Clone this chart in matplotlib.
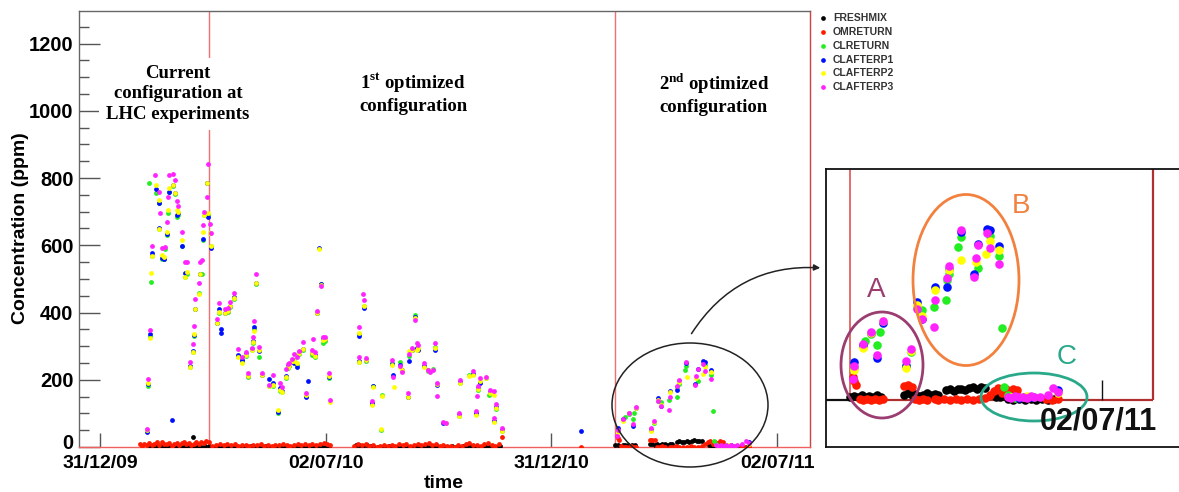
import numpy as np
import matplotlib
matplotlib.use('Agg')
import matplotlib.pyplot as plt
from matplotlib.patches import Ellipse, FancyArrowPatch
from matplotlib.lines import Line2D

BASE_DATE = '2009-12-31'

# ---------------- data (days since BASE_DATE, ppm) ----------------
FRESHMIX_DAYS = [40, 43, 46, 49, 52, 55, 58, 61, 64, 67, 70, 73, 75, 76, 79, 82, 85, 88,
                 92, 95, 98, 101, 104, 107, 110, 113, 116, 119, 122, 125, 128, 131, 134, 137,
                 140, 143, 146, 149, 152, 155, 158, 161, 164, 167, 170, 173, 176, 179, 182, 185,
                 207, 210, 213, 216, 219, 222, 225, 228, 231, 234, 237, 240, 243, 246, 249, 252,
                 255, 258, 261, 264, 267, 270, 273, 276, 279, 282, 285, 288, 291, 294, 297, 300,
                 303, 306, 309, 312, 315, 318, 321, 324,
                 417, 419, 421, 423, 425, 427, 429, 431, 433, 445, 447, 449, 451, 453, 455, 457,
                 459, 461, 463, 467, 469, 471, 473, 475, 477, 479, 481, 483, 485, 487, 493, 495,
                 497, 499, 502, 505, 508, 511, 514, 517, 520, 523]
FRESHMIX_PPM = [2, 1, 3, 2, 1, 2, 3, 1, 2, 1, 2, 3, 30, 1, 2, 1, 2, 3,
                1, 2, 1, 2, 0, 1, 2, 1, 0, 1, 2, 1, 0, 1, 2, 1,
                0, 1, 2, 1, 0, 1, 2, 1, 0, 1, 2, 1, 0, 2, 1, 3,
                5, 6, 4, 7, 2, 1, 0, 1, 0, 2, 1, 0, 2, 1, 0, 1,
                2, 0, 1, 2, 0, 1, 3, 1, 0, 1, 2, 1, 0, 3, 4, 2,
                1, 0, 1, 2, 1, 0, 1, 2,
                5, 6, 4, 7, 5, 6, 4, 7, 5, 8, 10, 7, 9, 6, 8, 10,
                7, 9, 8, 15, 17, 14, 16, 17, 15, 18, 20, 17, 19, 18, 5, 4,
                6, 2, 0, 1, 0, 1, 0, 1, 0, 1]

OMRETURN_DAYS = [32, 34, 36, 38, 40, 42, 44, 46, 48, 50, 52, 54, 56, 58, 60, 62, 64, 66, 68,
                 70, 72, 74, 76, 78, 80, 82, 84, 86, 88,
                 91, 94, 97, 100, 103, 106, 109, 112, 115, 118, 121, 124, 127, 130, 133, 136,
                 139, 142, 145, 148, 151, 154, 157, 160, 163, 166, 169, 172, 175, 178, 181, 184, 186,
                 206, 209, 212, 215, 218, 221, 224, 227, 230, 233, 236, 239, 242, 245, 248, 251,
                 254, 257, 260, 263, 266, 269, 272, 275, 278, 281, 284, 287, 290, 293, 296, 299,
                 302, 305, 308, 311, 314, 317, 320, 323, 325.4,
                 389,
                 418.5, 419, 420, 422, 424, 426, 428, 430, 432, 434, 445, 447, 449, 451, 453, 455,
                 457, 461, 463, 466, 469, 472, 475, 478, 481, 484, 487, 490, 492, 494, 496, 498,
                 500, 502, 504, 519, 522, 525]
OMRETURN_PPM = [8, 3, 10, 5, 12, 6, 9, 14, 7, 16, 10, 8, 12, 4, 9, 13, 6, 11, 15,
                8, 12, 5, 10, 14, 9, 16, 12, 18, 14,
                4, 7, 10, 6, 9, 5, 8, 4, 7, 6, 3, 7, 5, 8, 4, 6,
                3, 7, 5, 8, 6, 4, 7, 9, 5, 8, 6, 10, 7, 9, 12, 8, 5,
                3, 8, 5, 10, 2, 6, 1, 4, 7, 3, 6, 2, 8, 5, 9, 4,
                7, 10, 5, 8, 12, 6, 9, 3, 5, 2, 4, 1, 6, 3, 8, 11,
                5, 7, 4, 9, 12, 6, 3, 8, 29,
                0,
                34, 28, 22, 2, 0, 1, 0, 2, 0, 1, 21, 22, 20, 1, 0, 2,
                0, 1, 0, 2, 0, 1, 0, 2, 0, 1, 3, 8, 14, 18, 10, 16,
                12, 17, 15, 2, 0, 1]

nan = np.nan
# common sampling days for the chlorine-line channels
CL_DAYS = [38.3, 39.1, 39.9, 40.5, 41.3, 41.8, 44.8, 45.1, 47.8, 48.0, 48.6, 49.9, 52.1, 52.6,
           54.0, 55.3, 56.1, 58.0, 59.4, 60.7, 62.1, 63.4, 66.1, 68.8, 70.2, 72.9, 75.0, 76.1,
           76.9, 80.1, 80.9, 82.3, 83.1, 84.2, 86.9, 87.2, 87.7, 89.0, 89.6,
           95.0, 96.6, 98.0, 98.3, 101.2, 103.4, 105.2, 108.7, 111.4, 114.7, 118.2, 119.5, 122.8,
           124.1, 124.9, 126.0, 129.0, 130.9, 136.8, 140.3, 144.3, 145.7, 147.0, 150.6, 151.9,
           153.2, 155.1, 157.3, 159.2, 161.3, 164.6, 166.7, 168.1, 171.3, 172.2, 174.0, 175.4,
           177.5, 178.9, 180.8, 182.1, 185.6, 185.9,
           209.6, 209.9, 212.8, 213.3, 215.0, 220.4, 221.2, 227.2, 228.5, 236.6, 237.4, 237.6,
           242.8, 244.3, 249.6, 250.4, 252.3, 255.0, 256.3, 257.7, 262.3, 265.8, 267.1, 269.3,
           271.2, 272.5, 273.0, 277.9, 280.1, 290.9, 291.4, 298.7, 301.7, 304.4, 305.4, 306.2,
           307.6, 312.2, 314.9, 315.7, 318.9, 319.2, 320.5, 325.4,
           389.0,
           418.7, 419.1, 423.6, 424.8, 427.8, 431.2, 432.6, 434.0, 446.1, 448.7, 451.7, 454.3,
           460.9, 461.2, 466.8, 467.3, 468.7, 473.4, 474.6, 474.8, 481.5, 482.6, 483.8, 487.8,
           488.1, 489.8, 494.7, 495.9,
           497.1, 499.0, 501.0, 503.0, 505.0, 507.0, 509.0, 511.0, 513.0, 516.0, 520.0, 522.8, 525.4]

CLRETURN = [50, 182, 786, 330, 491, 569, nan, 756, 727, 648, nan, 560, 558, 588,
            631, 696, 758, nan, 775, 752, 683, 690, 598, 507, 515, 237, 284, 330,
            411, 458, 515, 515, 616, 690, 786, nan, 690, 636, 598,
            368, 400, nan, nan, 398, 403, 415, 440, 270, 255, 272, 207, 288,
            310, 350, 484, 267, 213, 180, 180, 100, 168, 163, 205, 235,
            240, 252, 260, 245, 278, 290, 152, nan, 275, nan, 268, 398,
            nan, 485, 310, 315, 205, nan,
            252, 335, nan, 418, 255, 128, 181, 50, 155, 250, nan, nan,
            254, 226, 150, 270, 288, 393, 292, 292, 240, 226, nan, 232,
            298, nan, 186, nan, nan, 93, 189, 214, 216, 98, nan, 170,
            193, 205, 155, 162, 76, nan, 113, 48,
            nan,
            nan, 48, 80, 88, 98, 82, 102, nan, 52, 72, 138, 134,
            139, nan, 149, 179, 188, 228, 242, nan, nan, nan, 197, nan,
            nan, 244, 214, 107,
            19, 8, nan, 3, nan, 5, nan, nan, 4, nan, nan, nan, nan]

CLAFTERP1 = [45, 188, nan, 335, nan, 577, nan, 768, 727, 652, nan, 562, 558, nan,
             635, nan, 760, 80, 778, 757, 690, 695, 598, 517, nan, 240, 286, 333,
             412, nan, 515, nan, 620, nan, 786, nan, 684, nan, 591,
             370, 410, 350, 340, 400, 405, 420, 445, 274, 259, 276, 212, 292,
             315, 358, 488, 285, 215, 201, 190, 103, 175, 168, 212, 240,
             245, 255, 250, 238, 282, 293, 150, 197, 280, nan, 275, 400,
             592, 484, 320, 322, 207, nan,
             256, 331, nan, 413, 260, 130, 180, nan, nan, 248, 214, nan,
             245, 230, 150, 256, 290, 388, 295, 290, 242, 230, nan, nan,
             290, nan, 185, 72, nan, 95, 192, nan, 218, 100, nan, 175,
             191, nan, nan, 163, 78, nan, 118, 50,
             48,
             nan, 57, 82, nan, 100, 63, nan, 115, 50, nan, 146, 121,
             nan, 168, nan, 169, 195, nan, 250, nan, 187, nan, 233, nan,
             255, 253, 230, nan,
             nan, nan, nan, nan, 3, nan, nan, 5, nan, nan, nan, nan, 15]

CLAFTERP2 = [50, 190, nan, 324, 518, 569, nan, 780, 735, 649, nan, 571, 565, nan,
             641, 705, 770, nan, 780, 755, 705, 698, 616, 507, 520, 237, 284, 336,
             411, 455, 515, nan, 641, 690, 786, nan, 695, 636, 598,
             370, 403, nan, nan, 400, 405, 418, 443, 269, 251, 274, 210, 290,
             313, 346, 487, 289, 215, 182, 185, 110, 170, 165, 209, 239,
             245, 255, 255, 250, 280, 291, 155, nan, 279, nan, 272, 400,
             588, 482, 318, 320, 210, 135,
             254, 340, nan, 420, 258, 125, 178, 53, 153, 244, nan, 178,
             237, 228, 148, 287, 290, 385, 289, 295, 237, 228, 226, nan,
             295, nan, 187, nan, 70, 92, 191, 210, 214, 95, nan, 172,
             195, 205, nan, 160, 75, 155, 115, 48,
             nan,
             nan, 45, 77, nan, 100, nan, nan, 117, 47, 73, 141, 125,
             nan, 164, nan, nan, 193, nan, nan, 209, nan, 205, nan, 217,
             nan, 237, 224, nan,
             nan, nan, 4, nan, nan, nan, 6, nan, nan, nan, nan, nan, 10]

CLAFTERP3 = [55, 202, nan, 348, nan, 599, 810, nan, 760, nan, 696, 592, nan, 595,
             668, 745, 810, nan, 812, 793, 733, 718, 641, 550, 550, 254, 307, 361,
             440, 487, 550, 555, 659, 700, 745, 841, nan, 663, 636,
             380, 428, nan, nan, 410, 413, 430, 457, 291, 269, 284, 221, 294,
             328, 376, 514, 296, 219, 185, 214, nan, 191, 178, 231, 247,
             251, 261, 276, 268, 287, 313, 162, nan, 289, 321, 282, 406,
             nan, 479, 326, 328, 219, 140,
             267, 358, 455, 437, 265, 138, nan, nan, nan, 259, 207, nan,
             240, 224, 162, 277, 294, 378, 310, 303, 249, 229, 224, 228,
             310, 152, 189, 75, 70, 102, 199, nan, 227, 108, 152, 181,
             204, 209, nan, 170, 87, 167, 128, 57,
             nan,
             32, 50, 84, nan, 102, 67, nan, 118, 58, 76, 136, 121,
             109, 149, nan, 181, 199, nan, 253, nan, 183, 211, 231, nan,
             248, 226, 203, nan,
             nan, 5, 3, 6, 4, 5, 3, 6, 4, 5, 8, 18, 12]

SERIES_NAMES = ['FRESHMIX', 'OMRETURN', 'CLRETURN', 'CLAFTERP1', 'CLAFTERP2', 'CLAFTERP3']
SERIES_COLORS = ['#000000', '#ff1a00', '#22ee22', '#0010ff', '#ffff00', '#ff22ff']

REGION_LINES = [88.5, 416.9]          # configuration changes (days)
XLIM_DAYS = [-17, 574.7]
XTICK_DATES = ['2009-12-31', '2010-07-02', '2010-12-31', '2011-07-02']
XTICK_LABELS = ['31/12/09', '02/07/10', '31/12/10', '02/07/11']
YTICKS = [0, 200, 400, 600, 800, 1000, 1200]
YTICK_LABELS = ['0', '200', '400', '600', '800', '1000', '1200']
YMAX = 1297
INSET_XLIM_DAYS = [404.5, 588.2]
INSET_YLIM = [-70, 344]


def to_dt(days):
    d = np.atleast_1d(np.asarray(days, dtype=float))
    return np.datetime64(BASE_DATE, 'm') + np.round(d * 1440).astype('int64').astype('timedelta64[m]')


series = [
    (FRESHMIX_DAYS, FRESHMIX_PPM),
    (OMRETURN_DAYS, OMRETURN_PPM),
    (CL_DAYS, CLRETURN),
    (CL_DAYS, CLAFTERP1),
    (CL_DAYS, CLAFTERP2),
    (CL_DAYS, CLAFTERP3),
]

W, H = 1179, 492
fig = plt.figure(figsize=(W / 100, H / 100), dpi=100)


def fx(px):
    return px / W


def fy(py):
    return 1 - py / H


SANS = 'Liberation Sans'
SERIF = 'Liberation Serif'

# ---------------- main axes ----------------
ax = fig.add_axes([fx(79), fy(447), fx(810) - fx(79), fy(11) - fy(447)])
for (dd, vv), c in zip(series, SERIES_COLORS):
    ax.scatter(to_dt(dd), np.asarray(vv, float), s=12, color=c, linewidths=0, zorder=3)

for d in REGION_LINES:
    ax.axvline(to_dt(d)[0], color='#f07070', lw=1.0, zorder=1)

ax.set_xlim(to_dt(XLIM_DAYS[0])[0], to_dt(XLIM_DAYS[1])[0])
ax.set_ylim(0, YMAX)
ax.set_xticks([np.datetime64(t, 'm') for t in XTICK_DATES])
ax.set_xticklabels(XTICK_LABELS)
ax.set_yticks(YTICKS)
# the "0" label is drawn separately (nudged up so it doesn't collide with the date label)
ax.set_yticklabels([''] + YTICK_LABELS[1:])
ax.xaxis.set_minor_locator(matplotlib.ticker.NullLocator())
ax.set_yticks(np.arange(0, 1300, 50), minor=True)
ax.tick_params(axis='y', which='major', direction='in', length=15, width=1, color='#555555', pad=4)
ax.tick_params(axis='y', which='minor', direction='in', length=7.5, width=1, color='#555555')
ax.tick_params(axis='x', which='major', direction='in', length=10, width=1, color='#555555', pad=6)
for lab in ax.get_yticklabels():
    lab.set_fontfamily(SANS)
    lab.set_fontweight('bold')
    lab.set_fontsize(14.5)
for lab in ax.get_xticklabels():
    lab.set_fontfamily(SANS)
    lab.set_fontweight('bold')
    lab.set_fontsize(14)
fig.text(fx(73.4), fy(443.5), YTICK_LABELS[0], ha='right', va='center',
         fontfamily=SANS, fontweight='bold', fontsize=14.5)
for s in ['top', 'left']:
    ax.spines[s].set_color('#666666')
ax.spines['bottom'].set_color('#f06060')
ax.spines['right'].set_color('#d04040')
for s in ax.spines.values():
    s.set_linewidth(1.0)

fig.text(fx(21), fy(228), 'Concentration (ppm)', rotation=90, ha='center', va='center',
         fontfamily=SANS, fontweight='bold', fontsize=14)
fig.text(fx(444), fy(483), 'time', ha='center', va='center',
         fontfamily=SANS, fontweight='bold', fontsize=14)

# configuration labels
fig.text(fx(178), fy(94), 'Current\nconfiguration at\nLHC experiments', ha='center', va='center',
         fontfamily=SERIF, fontweight='bold', fontsize=13.5, linespacing=1.25,
         bbox=dict(facecolor='white', edgecolor='none', pad=5), zorder=5)
fig.text(fx(413), fy(93.5), '1$^{\\mathregular{st}}$ optimized\nconfiguration', ha='center', va='center',
         fontfamily=SERIF, fontweight='bold', fontsize=13.5, linespacing=1.25)
fig.text(fx(714), fy(93.5), '2$^{\\mathregular{nd}}$ optimized\nconfiguration', ha='center', va='center',
         fontfamily=SERIF, fontweight='bold', fontsize=13.5, linespacing=1.25)

# legend (outside, upper right)
LEG_Y = [18, 32, 46, 60, 73, 87]
for name, c, y in zip(SERIES_NAMES, SERIES_COLORS, LEG_Y):
    fig.add_artist(Line2D([fx(823)], [fy(y)], marker='o', markersize=3.4, color=c,
                          markeredgewidth=0, linestyle='none', transform=fig.transFigure))
    fig.text(fx(833), fy(y), name, ha='left', va='center', fontfamily=SANS,
             fontweight='bold', fontsize=7.5, color='#333333')

# big ellipse and arrow
fig.add_artist(Ellipse((fx(690), fy(405)), 156 / W, 124 / H, transform=fig.transFigure,
                       fill=False, edgecolor='#222222', lw=1.1))
fig.add_artist(FancyArrowPatch((fx(690), fy(336)), (fx(823), fy(268)), transform=fig.transFigure,
                               connectionstyle='arc3,rad=-0.3', arrowstyle='-|>',
                               mutation_scale=9, color='#222222', lw=1.1))

# ---------------- inset (zoom of 2nd configuration) ----------------
ax2 = fig.add_axes([fx(826), fy(447), fx(1179) - fx(826), fy(169) - fy(447)])
ax2.set_xlim(to_dt(INSET_XLIM_DAYS[0])[0], to_dt(INSET_XLIM_DAYS[1])[0])
ax2.set_ylim(*INSET_YLIM)
ax2.set_xticks([])
ax2.set_yticks([])
ax2.spines['right'].set_visible(False)
for s in ['left', 'top', 'bottom']:
    ax2.spines[s].set_color('#111111')
    ax2.spines[s].set_linewidth(1.3)

ax2.vlines(to_dt(REGION_LINES[1])[0], 0, INSET_YLIM[1], color='#e06060', lw=1.3, zorder=1)
ax2.vlines(to_dt(XLIM_DAYS[1])[0], 0, INSET_YLIM[1], color='#b03030', lw=1.6, zorder=1)
ax2.hlines(0, to_dt(INSET_XLIM_DAYS[0])[0], to_dt(REGION_LINES[1])[0], color='#111111', lw=1.6, zorder=1)
ax2.hlines(0, to_dt(REGION_LINES[1])[0], to_dt(XLIM_DAYS[1])[0], color='#b03030', lw=1.6, zorder=1)
ax2.vlines(np.datetime64(XTICK_DATES[3], 'm'), 0, 30, color='#111111', lw=1.0, zorder=1)

for (dd, vv), c in zip(series, SERIES_COLORS):
    ax2.scatter(to_dt(dd), np.asarray(vv, float), s=38, color=c, linewidths=0, zorder=3)

fig.text(fx(1098), fy(421), XTICK_LABELS[3], ha='center', va='center', fontfamily=SANS,
         fontweight='bold', fontsize=22, color='#111111')

# inset ellipses and letters
fig.add_artist(Ellipse((fx(882), fy(365)), 82 / W, 106 / H, transform=fig.transFigure,
                       fill=False, edgecolor='#9b3d70', lw=2.0))
fig.add_artist(Ellipse((fx(966), fy(280)), 106 / W, 171 / H, transform=fig.transFigure,
                       fill=False, edgecolor='#f2813f', lw=2.0))
fig.add_artist(Ellipse((fx(1034), fy(397)), 106 / W, 48 / H, transform=fig.transFigure,
                       fill=False, edgecolor='#2aa88a', lw=2.0))
fig.text(fx(876), fy(290), 'A', ha='center', va='center', fontfamily=SANS, fontsize=20, color='#9b3d70')
fig.text(fx(1021), fy(206), 'B', ha='center', va='center', fontfamily=SANS, fontsize=20, color='#f2813f')
fig.text(fx(1067), fy(357), 'C', ha='center', va='center', fontfamily=SANS, fontsize=20, color='#2aa88a')

fig.savefig('out.png', dpi=100)
